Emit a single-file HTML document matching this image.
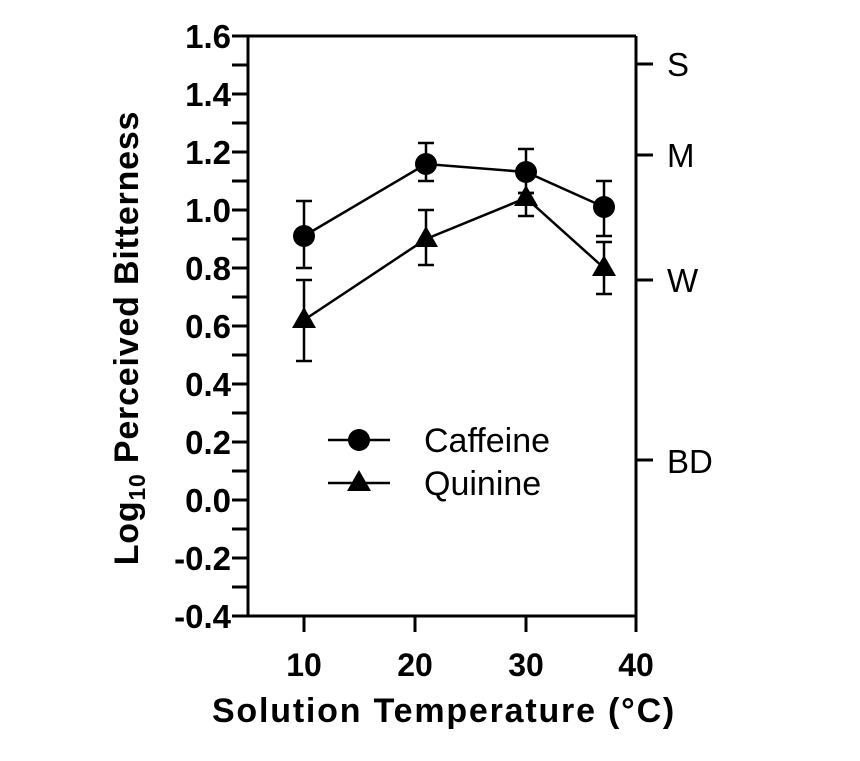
<!DOCTYPE html>
<html><head><meta charset="utf-8"><style>
body{margin:0;background:#fff}
svg text{font-family:"Liberation Sans",Arial,sans-serif;fill:#000}
</style></head><body>
<svg width="860" height="756" viewBox="0 0 860 756" xmlns="http://www.w3.org/2000/svg">
<g stroke="#000" stroke-width="3" fill="none">
<line x1="248" y1="36" x2="636" y2="36"/>
<line x1="248" y1="36" x2="248" y2="616"/>
<line x1="636" y1="36" x2="636" y2="632"/>
<line x1="248" y1="616" x2="636" y2="616"/>
<path d="M232 36H248M232 65H248M232 94H248M232 123H248M232 152H248M232 181H248M232 210H248M232 239H248M232 268H248M232 297H248M232 326H248M232 355H248M232 384H248M232 413H248M232 442H248M232 471H248M232 500H248M232 529H248M232 558H248M232 587H248M232 616H248"/>
<path d="M304 616V632M415 616V632M526 616V632"/>
<path d="M636 64H653M636 155H653M636 280H653M636 460H653"/>
</g>
<g font-size="33" font-weight="bold" text-anchor="end">
<text x="231" y="48">1.6</text><text x="231" y="106">1.4</text><text x="231" y="164">1.2</text>
<text x="231" y="222">1.0</text><text x="231" y="280">0.8</text><text x="231" y="338">0.6</text>
<text x="231" y="396">0.4</text><text x="231" y="454">0.2</text><text x="231" y="512">0.0</text>
<text x="231" y="570">-0.2</text><text x="231" y="628">-0.4</text>
</g>
<g font-size="32" font-weight="bold" text-anchor="middle">
<text x="304" y="676">10</text><text x="415" y="676">20</text><text x="526" y="676">30</text><text x="636" y="676">40</text>
<text x="444" y="722" font-size="34" letter-spacing="1.8">Solution Temperature (°C)</text>
<text transform="translate(138,338) rotate(-90)" font-size="34" letter-spacing="0.8">Log<tspan font-size="23" dy="7">10</tspan><tspan dy="-7"> Perceived Bitterness</tspan></text>
</g>
<g font-size="33">
<text x="667" y="76">S</text><text x="667" y="167">M</text><text x="667" y="292">W</text><text x="667" y="473">BD</text>
</g>
<g stroke="#000" stroke-width="2.5" fill="none">
<polyline points="304,236 426,164 526,172 604,207"/>
<polyline points="304,320 426,239 526,198 604,268"/>
<path d="M304 268V201M296 201H312M296 268H312"/>
<path d="M426 181V143M418 143H434M418 181H434"/>
<path d="M526 193V149M518 149H534M518 193H534"/>
<path d="M604 236V181M596 181H612M596 236H612"/>
<path d="M304 361V280M296 280H312M296 361H312"/>
<path d="M426 265V210M418 210H434M418 265H434"/>
<path d="M526 216V193M518 193H534M518 216H534"/>
<path d="M604 294V242M596 242H612M596 294H612"/>
<path d="M328 440H390M328 483H390"/>
</g>
<g fill="#000">
<circle cx="304" cy="236" r="11"/><circle cx="426" cy="164" r="11"/><circle cx="526" cy="172" r="11"/><circle cx="604" cy="207" r="11"/>
<polygon points="304,307 292,328 316,328"/><polygon points="426,226 414,247 438,247"/><polygon points="526,185 514,206 538,206"/><polygon points="604,255 592,276 616,276"/>
<circle cx="359" cy="440" r="11"/>
<polygon points="359,470 347,491 371,491"/>
</g>
<g font-size="34">
<text x="424" y="452">Caffeine</text><text x="424" y="495">Quinine</text>
</g>
</svg>
</body></html>
